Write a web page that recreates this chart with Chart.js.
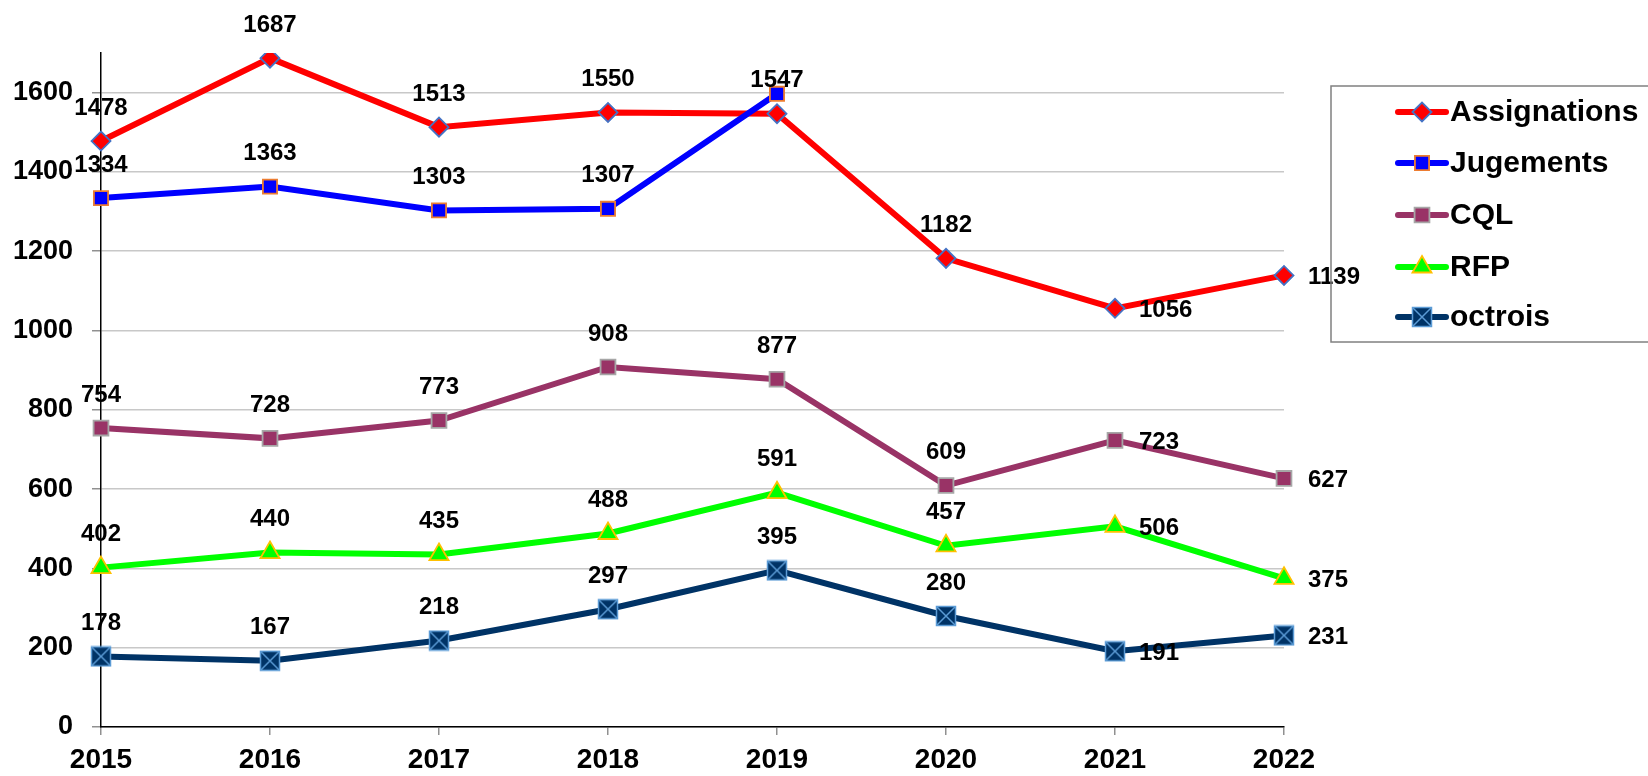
<!DOCTYPE html>
<html>
<head>
<meta charset="utf-8">
<script src="https://cdn.jsdelivr.net/npm/chart.js@4/dist/chart.umd.min.js"></script>
<style>
  html, body { margin:0; padding:0; background:#fff; }
  #wrap { width:1648px; height:776px; }
</style>
</head>
<body>
<div id="wrap"><canvas id="c" width="1648" height="776"></canvas></div>
<script>
// ----- data -----
const years        = ['2015','2016','2017','2018','2019','2020','2021','2022'];
const assignations = [1478, 1687, 1513, 1550, 1547, 1182, 1056, 1139];
const jugements    = [1334, 1363, 1303, 1307, 1597, null, null, null];
const cql          = [754, 728, 773, 908, 877, 609, 723, 627];
const rfp          = [402, 440, 435, 488, 591, 457, 506, 375];
const octrois      = [178, 167, 218, 297, 395, 280, 191, 231];
const yTicks       = [0, 200, 400, 600, 800, 1000, 1200, 1400, 1600];

const FONT = '"Liberation Sans", Arial, Helvetica, sans-serif';

// square with an X, used for "octrois"
function makeXSquare(){
  const s = 22, c = document.createElement('canvas');
  c.width = s; c.height = s;
  const g = c.getContext('2d');
  g.fillStyle = '#003366';
  g.fillRect(1, 1, s-2, s-2);
  g.strokeStyle = '#5B9BD5'; g.lineWidth = 1.5;
  g.strokeRect(1.5, 1.5, s-3, s-3);
  g.beginPath();
  g.moveTo(2, 2); g.lineTo(s-2, s-2);
  g.moveTo(s-2, 2); g.lineTo(2, s-2);
  g.stroke();
  return c;
}
const xSquare = makeXSquare();

const ds = (label, data, color, style, radius, fill, border, order) => ({
  label, data, order,
  borderColor: color, backgroundColor: color,
  borderWidth: 6, tension: 0, spanGaps: false,
  pointStyle: style, pointRadius: radius, pointHoverRadius: radius,
  pointBackgroundColor: fill, pointBorderColor: border, pointBorderWidth: 1.8
});

const datasets = [
  ds('Assignations', assignations, '#FF0000', 'rectRot', 9.5, '#FF0000', '#4472C4', 5),
  ds('Jugements', jugements, '#0000FF', 'rect', 10, '#0000FF', '#ED7D31', 4),
  ds('CQL', cql, '#993366', 'rect', 10.5, '#993366', '#A6A6A6', 3),
  ds('RFP', rfp, '#00FF00', 'triangle', 11, '#00FF00', '#FFC000', 2),
  ds('octrois', octrois, '#003366', xSquare, 11, '#003366', '#5B9BD5', 1)
];

// value labels: right of the point for the last two years, above otherwise
const hiddenLabels = { 'Jugements': [4] };
const valueLabels = {
  id: 'valueLabels',
  afterDatasetsDraw(chart){
    const ctx = chart.ctx;
    ctx.save();
    ctx.font = 'bold 24px ' + FONT;
    ctx.fillStyle = '#000';
    ctx.textBaseline = 'middle';
    chart.data.datasets.forEach((d, di) => {
      const meta = chart.getDatasetMeta(di);
      const hide = hiddenLabels[d.label] || [];
      meta.data.forEach((pt, i) => {
        const v = d.data[i];
        if (v == null || hide.includes(i)) return;
        if (i >= 6){
          ctx.textAlign = 'left';
          ctx.fillText(String(v), pt.x + 24, pt.y + 2);
        } else {
          ctx.textAlign = 'center';
          ctx.fillText(String(v), pt.x, pt.y - 33);
        }
      });
    });
    ctx.restore();
  }
};

// legend box drawn by hand (top right, runs off the right edge)
const boxLegend = {
  id: 'boxLegend',
  afterDraw(chart){
    const ctx = chart.ctx;
    ctx.save();
    ctx.strokeStyle = '#808080';
    ctx.lineWidth = 1.5;
    ctx.strokeRect(1331, 86, 400, 256);
    const rows = [112, 163, 215, 267, 317];
    chart.data.datasets.forEach((d, i) => {
      const y = rows[i];
      ctx.strokeStyle = d.borderColor;
      ctx.lineWidth = 6; ctx.lineCap = 'round';
      ctx.beginPath(); ctx.moveTo(1398, y); ctx.lineTo(1446, y); ctx.stroke();
      const opts = {
        pointStyle: d.pointStyle, radius: d.pointRadius, rotation: 0,
        borderWidth: d.pointBorderWidth
      };
      ctx.fillStyle = d.pointBackgroundColor;
      ctx.strokeStyle = d.pointBorderColor;
      ctx.lineWidth = d.pointBorderWidth;
      Chart.helpers.drawPoint(ctx, opts, 1422, y);
      ctx.fillStyle = '#000';
      ctx.font = 'bold 30px ' + FONT;
      ctx.textAlign = 'left'; ctx.textBaseline = 'middle';
      ctx.fillText(d.label, 1450, y + 1);
    });
    ctx.restore();
  }
};

new Chart(document.getElementById('c'), {
  type: 'line',
  data: { labels: years, datasets },
  plugins: [valueLabels, boxLegend],
  options: {
    responsive: false,
    devicePixelRatio: 1,
    animation: false,
    layout: { padding: { top: 53, right: 364, left: 0, bottom: 0 } },
    plugins: { legend: { display: false }, tooltip: { enabled: false } },
    scales: {
      x: {
        type: 'category',
        offset: false,
        grid: { display: true, drawOnChartArea: false, drawTicks: true, tickLength: 8, color: '#909090', lineWidth: 1.5 },
        border: { display: true, color: '#000', width: 1.5 },
        ticks: { color: '#000', font: { family: FONT, size: 28, weight: 'bold' }, padding: 8, maxRotation: 0, autoSkip: false },
        afterFit(s){ s.height = 49; }
      },
      y: {
        min: 0, max: 1700,
        afterBuildTicks(s){ s.ticks = yTicks.map(v => ({ value: v })); },
        grid: { color: '#C8C8C8', lineWidth: 1.5, tickLength: 9, tickColor: '#909090' },
        border: { display: true, color: '#000', width: 1.5 },
        ticks: { color: '#000', font: { family: FONT, size: 27, weight: 'bold' }, padding: 19,
                 callback: v => String(v) },
        afterFit(s){ s.width = 101; }
      }
    }
  }
});
</script>
</body>
</html>
